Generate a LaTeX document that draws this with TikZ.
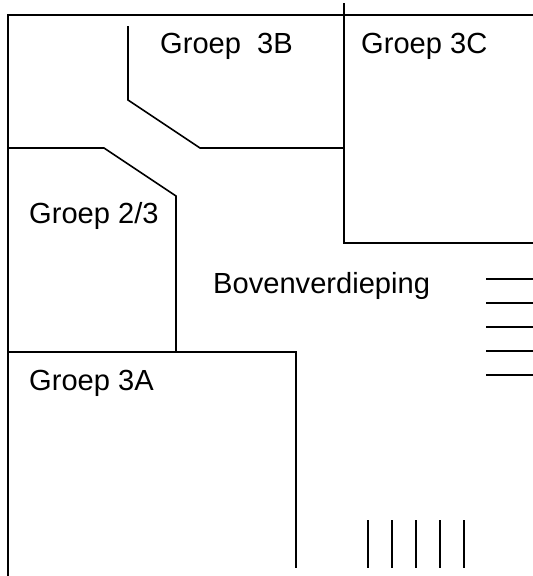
\documentclass[tikz,border=0pt]{standalone}
\usepackage{fontspec}
\setmainfont{Liberation Sans}
\begin{document}
\begin{tikzpicture}[x=1pt,y=-1pt,wall/.style={line width=1.6pt,black,line cap=butt,line join=miter},lbl/.style={anchor=base west,inner sep=0pt,font=\fontsize{29.1}{32}\selectfont}]
\useasboundingbox[fill=white] (0,0) rectangle (533,576);
\draw[wall] (533,15) -- (8,15) -- (8,576);
\draw[wall] (128,26) -- (128,100) -- (200,148) -- (344,148);
\draw[wall] (344,3) -- (344,243) -- (533,243);
\draw[wall] (8,148) -- (104,148) -- (176,196) -- (176,352);
\draw[wall] (8,352) -- (296,352) -- (296,568);
\foreach \y in {279,303,327,351,375} \draw[wall] (486,\y) -- (533,\y);
\foreach \x in {368,392,416,440,464} \draw[wall] (\x,520) -- (\x,568);
\node[lbl] (g3b) at (160,53) {Groep\ \ 3B};
\node[lbl] (g3c) at (361,53) {Groep 3C};
\node[lbl] (g23) at (29,223) {Groep 2/3};
\node[lbl] (bov) at (213,293) {Bovenverdieping};
\node[lbl] (g3a) at (29,390) {Groep 3A};
\end{tikzpicture}
\end{document}
